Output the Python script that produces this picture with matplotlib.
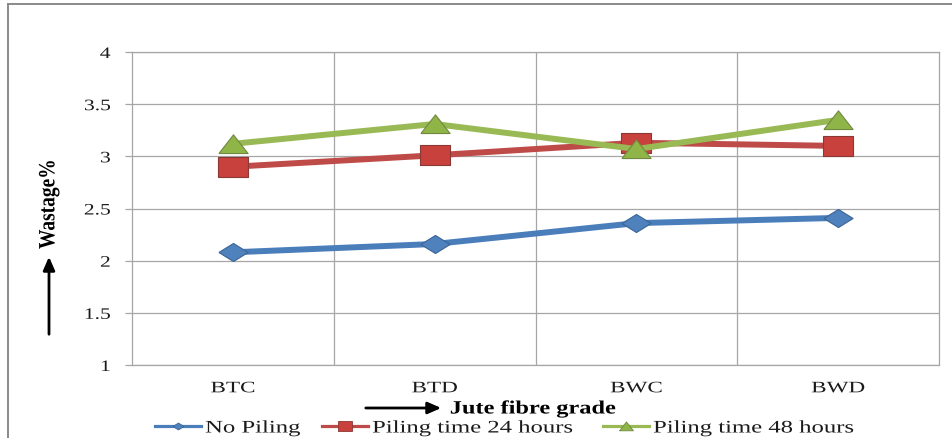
import matplotlib
matplotlib.use("Agg")
import matplotlib.pyplot as plt
from matplotlib.lines import Line2D
from matplotlib.patheffects import AbstractPathEffect
from matplotlib.transforms import Affine2D
from matplotlib.ticker import FixedLocator

# ---- data -------------------------------------------------------------
grades = ["BTC", "BTD", "BWC", "BWD"]
no_piling = [2.08, 2.16, 2.36, 2.41]
piling_24h = [2.90, 3.01, 3.13, 3.10]
piling_48h = [3.12, 3.31, 3.07, 3.35]
series_labels = ["No Piling", "Piling time 24 hours", "Piling time 48 hours"]
y_ticks = [1, 1.5, 2, 2.5, 3, 3.5, 4]
y_ticklabels = ["1", "1.5", "2", "2.5", "3", "3.5", "4"]

W, H = 952, 438
SERIF = ["Liberation Serif", "DejaVu Serif"]


class StretchX(AbstractPathEffect):
    """Widen glyph outlines horizontally about an anchor of the text box."""

    def __init__(self, sx, anchor="center"):
        super().__init__()
        self.sx = sx
        self.anchor = anchor

    def draw_path(self, renderer, gc, tpath, affine, rgbFace=None):
        ext = tpath.get_extents(affine)
        if self.anchor == "left":
            cx = ext.x0
        elif self.anchor == "right":
            cx = ext.x1
        else:
            cx = 0.5 * (ext.x0 + ext.x1)
        aff = affine + Affine2D().translate(-cx, 0).scale(self.sx, 1).translate(cx, 0)
        renderer.draw_path(gc, tpath, aff, rgbFace)


# flattened marker outlines
diamond = [(-1, 0), (0, 0.62), (1, 0), (0, -0.62), (-1, 0)]
rect = [(-1, -0.66), (1, -0.66), (1, 0.66), (-1, 0.66), (-1, -0.66)]
tri = [(-1, -0.62), (1, -0.62), (0, 0.66), (-1, -0.62)]

styles = [
    dict(color="#4a7ebb", marker=diamond, mfc="#4f81bd", mec="#3a6496"),
    dict(color="#be4b48", marker=rect, mfc="#c9413c", mec="#8c3836"),
    dict(color="#98b954", marker=tri, mfc="#8fb447", mec="#71893f"),
]
series = [no_piling, piling_24h, piling_48h]

fig = plt.figure(figsize=(W / 100, H / 100), dpi=100)
ax = fig.add_axes([132 / W, 1 - 365 / H, (939 - 132) / W, (365 - 52) / H])

x = list(range(len(grades)))
for i, (vals, st) in enumerate(zip(series, styles)):
    ax.plot(x, vals, color=st["color"], lw=4.3, marker=st["marker"], ms=21,
            mfc=st["mfc"], mec=st["mec"], mew=0.8, zorder=3 + i,
            solid_joinstyle="round", solid_capstyle="round")

grid_c = "#a6a6a6"
ax.set_xlim(-0.5, len(grades) - 0.5)
ax.set_ylim(1, 4)
ax.set_yticks(y_ticks)
ax.set_yticklabels(y_ticklabels)
ax.set_xticks(x)
ax.set_xticklabels(grades)
ax.xaxis.set_minor_locator(FixedLocator([i + 0.5 for i in range(len(grades) - 1)]))
ax.grid(axis="y", which="major", color=grid_c, lw=0.9)
ax.grid(axis="x", which="minor", color=grid_c, lw=0.9)
ax.set_axisbelow(True)
for sp in ax.spines.values():
    sp.set_color(grid_c)
    sp.set_linewidth(0.9)
ax.tick_params(axis="y", which="major", length=5, color=grid_c, width=0.9,
               pad=10.5, labelsize=11.5, labelcolor="#1a1a1a")
ax.tick_params(axis="x", which="both", length=0, pad=11, labelsize=11.5,
               labelcolor="#1a1a1a")
for lab in ax.get_yticklabels():
    lab.set_family(SERIF)
    lab.set_path_effects([StretchX(1.35, "right")])
for lab in ax.get_xticklabels():
    lab.set_family(SERIF)
    lab.set_path_effects([StretchX(1.45, "center")])

# axis titles with arrows
fig.text(49 / W, 1 - 204 / H, "Wastage%", rotation=90, ha="center", va="center",
         fontsize=14, fontweight="bold", family=SERIF,
         path_effects=[StretchX(1.2, "center")])
fig.add_artist(plt.Annotation("", xy=(49 / W, 1 - 254 / H), xytext=(49 / W, 1 - 337 / H),
                              xycoords="figure fraction",
                              arrowprops=dict(arrowstyle="-|>,head_length=0.8,head_width=0.35",
                                              color="black", lw=2)))
fig.text(450 / W, 1 - 409 / H, "Jute fibre grade", ha="left", va="center",
         fontsize=13.5, fontweight="bold", family=SERIF,
         path_effects=[StretchX(1.3, "left")])
fig.add_artist(plt.Annotation("", xy=(444 / W, 1 - 408 / H), xytext=(363 / W, 1 - 408 / H),
                              xycoords="figure fraction",
                              arrowprops=dict(arrowstyle="-|>,head_length=0.8,head_width=0.35",
                                              color="black", lw=2)))

# legend: one entry per block so each text keeps its own width
leg_x = [155, 322, 603]
leg_ms = [8, 10, 10]
for lx, lab, st, ms in zip(leg_x, series_labels, styles, leg_ms):
    h = Line2D([], [], color=st["color"], lw=2.3, marker=st["marker"], ms=ms,
               mfc=st["mfc"], mec=st["mec"], mew=0.6)
    lg = fig.legend(handles=[h], labels=[lab], loc="center left",
                    bbox_to_anchor=(lx / W, 1 - 428 / H), frameon=False,
                    borderpad=0, borderaxespad=0, handlelength=2.6,
                    handletextpad=0.25, prop=dict(family=SERIF, size=12.7))
    for t in lg.get_texts():
        t.set_color("#1a1a1a")
        t.set_path_effects([StretchX(1.4, "left")])

# outer frame (top and left edges)
frame_c = "#8a8a8a"
fig.add_artist(Line2D([8 / W, 1], [1 - 4 / H, 1 - 4 / H], color=frame_c, lw=1.4))
fig.add_artist(Line2D([8 / W, 8 / W], [0, 1 - 4 / H], color=frame_c, lw=1.4))

fig.savefig("out.png", dpi=100)
